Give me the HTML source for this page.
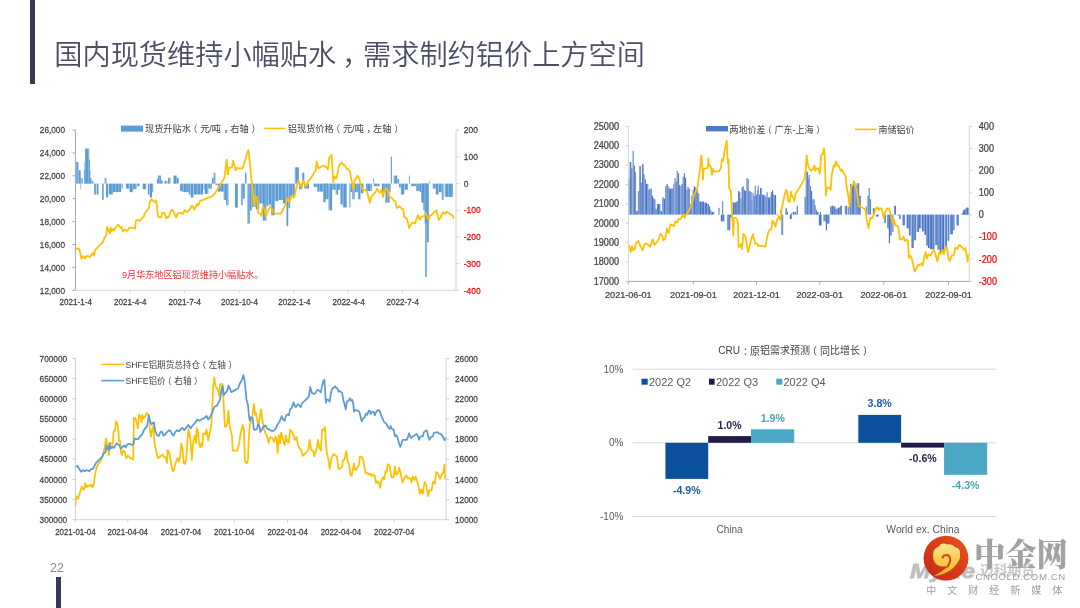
<!DOCTYPE html><html><head><meta charset="utf-8"><style>html,body{margin:0;padding:0;background:#fff;}svg{display:block;will-change:transform;} text{font-family:"Liberation Sans","Noto Sans CJK SC",sans-serif;}</style></head><body>
<svg width="1080" height="608" viewBox="0 0 1080 608">
<rect width="1080" height="608" fill="#fff"/>
<rect x="30" y="0" width="5" height="84" fill="#363a54"/>
<rect x="56" y="577" width="5" height="31" fill="#363a54"/>
<text y="54.5" font-size="28.2" fill="#4b4e69" dominant-baseline="central" font-weight="350"><tspan x="54.3">国内现货维持小幅贴水</tspan><tspan x="342">，</tspan><tspan x="363">需求制约铝价上方空间</tspan></text>
<text x="50.0" y="568.0" font-size="12.5" fill="#8c8c8c" text-anchor="start" dominant-baseline="central" >22</text>
<defs><pattern id="p1" x="0.3" width="3.4" height="20" patternUnits="userSpaceOnUse"><rect width="3.4" height="20" fill="#a5c6e8"/><rect width="2.8" height="20" fill="#5b9bd5"/></pattern></defs>
<g fill="url(#p1)"><rect x="76.19" y="161.93" width="2.37" height="21.67"/><rect x="78.56" y="170.22" width="2.13" height="13.38"/><rect x="80.45" y="183.60" width="0.71" height="5.59"/><rect x="80.69" y="178.16" width="2.01" height="5.44"/><rect x="83.89" y="170.22" width="1.19" height="13.38"/><rect x="84.48" y="161.93" width="0.95" height="21.67"/><rect x="85.07" y="148.53" width="4.15" height="35.07"/><rect x="88.04" y="159.56" width="1.78" height="24.04"/><rect x="89.22" y="170.22" width="1.19" height="13.38"/><rect x="89.81" y="178.16" width="1.78" height="5.44"/><rect x="91.59" y="180.89" width="1.78" height="2.71"/><rect x="93.96" y="183.60" width="2.37" height="10.92"/><rect x="96.93" y="183.60" width="1.78" height="10.92"/><rect x="102.02" y="183.60" width="1.66" height="16.25"/><rect x="104.63" y="177.93" width="1.78" height="5.67"/><rect x="106.05" y="183.60" width="2.13" height="13.88"/><rect x="108.78" y="183.60" width="4.15" height="10.92"/><rect x="112.93" y="183.60" width="8.30" height="8.55"/><rect x="121.81" y="183.60" width="1.19" height="4.99"/><rect x="125.96" y="183.60" width="3.56" height="4.99"/><rect x="129.52" y="183.60" width="3.56" height="8.55"/><rect x="133.07" y="183.60" width="3.56" height="5.59"/><rect x="137.22" y="183.60" width="2.37" height="2.62"/><rect x="142.56" y="183.60" width="3.56" height="5.59"/><rect x="147.89" y="183.60" width="1.78" height="10.92"/><rect x="149.67" y="183.60" width="2.37" height="13.88"/><rect x="152.04" y="183.60" width="1.19" height="8.55"/><rect x="156.78" y="179.11" width="1.19" height="4.49"/><rect x="157.96" y="175.56" width="2.96" height="8.04"/><rect x="160.93" y="180.30" width="1.78" height="3.30"/><rect x="164.48" y="180.89" width="2.96" height="2.71"/><rect x="168.04" y="177.93" width="2.37" height="5.67"/><rect x="173.37" y="175.56" width="3.56" height="8.04"/><rect x="176.93" y="177.93" width="1.78" height="5.67"/><rect x="179.89" y="183.60" width="2.37" height="7.36"/><rect x="182.26" y="183.60" width="6.52" height="8.55"/><rect x="188.78" y="183.60" width="1.78" height="10.92"/><rect x="190.56" y="183.60" width="2.96" height="13.88"/><rect x="193.52" y="183.60" width="3.56" height="10.92"/><rect x="197.07" y="183.60" width="5.93" height="10.92"/><rect x="203.56" y="183.60" width="1.19" height="6.18"/><rect x="204.74" y="183.60" width="3.56" height="10.33"/><rect x="208.30" y="183.60" width="3.56" height="4.99"/><rect x="211.85" y="177.93" width="1.78" height="5.67"/><rect x="213.63" y="172.59" width="1.78" height="11.01"/><rect x="215.41" y="183.60" width="2.37" height="1.44"/><rect x="217.78" y="183.60" width="5.93" height="7.99"/><rect x="223.70" y="183.60" width="2.37" height="16.29"/><rect x="226.07" y="183.60" width="2.37" height="21.62"/><rect x="234.96" y="183.60" width="2.96" height="23.99"/><rect x="240.89" y="183.60" width="1.78" height="21.62"/><rect x="242.67" y="183.60" width="2.37" height="15.10"/><rect x="245.04" y="172.59" width="1.42" height="11.01"/><rect x="247.41" y="183.60" width="2.37" height="39.99"/><rect x="249.78" y="183.60" width="2.37" height="26.96"/><rect x="252.15" y="183.60" width="3.56" height="23.40"/><rect x="255.70" y="183.60" width="3.56" height="25.77"/><rect x="259.26" y="183.60" width="3.56" height="19.84"/><rect x="262.81" y="183.60" width="3.56" height="37.03"/><rect x="266.37" y="183.60" width="2.37" height="22.21"/><rect x="268.74" y="183.60" width="2.37" height="21.03"/><rect x="271.11" y="183.60" width="3.56" height="31.70"/><rect x="274.67" y="183.60" width="3.56" height="17.47"/><rect x="278.22" y="183.60" width="4.74" height="16.29"/><rect x="282.96" y="183.60" width="3.56" height="19.84"/><rect x="286.52" y="183.60" width="1.78" height="42.36"/><rect x="288.30" y="183.60" width="1.78" height="24.59"/><rect x="290.07" y="183.60" width="4.74" height="12.73"/><rect x="294.81" y="167.26" width="4.15" height="16.34"/><rect x="298.96" y="183.60" width="2.96" height="5.59"/><rect x="301.93" y="172.59" width="2.37" height="11.01"/><rect x="304.30" y="183.60" width="4.74" height="4.99"/><rect x="313.78" y="183.60" width="3.56" height="3.25"/><rect x="317.33" y="183.60" width="5.93" height="7.99"/><rect x="323.26" y="183.60" width="2.37" height="18.66"/><rect x="325.63" y="183.60" width="2.37" height="15.10"/><rect x="325.00" y="183.60" width="3.56" height="15.66"/><rect x="332.11" y="183.60" width="3.56" height="6.18"/><rect x="335.67" y="183.60" width="2.37" height="10.92"/><rect x="338.04" y="183.60" width="2.37" height="6.18"/><rect x="350.48" y="183.60" width="1.78" height="8.55"/><rect x="352.26" y="183.60" width="2.37" height="15.66"/><rect x="354.63" y="183.60" width="3.56" height="8.55"/><rect x="358.19" y="183.60" width="2.37" height="15.66"/><rect x="360.56" y="183.60" width="2.96" height="9.73"/><rect x="365.89" y="183.60" width="5.93" height="7.36"/><rect x="373.00" y="177.93" width="0.83" height="5.67"/><rect x="373.83" y="183.60" width="5.69" height="2.62"/><rect x="381.89" y="183.60" width="3.56" height="8.55"/><rect x="389.59" y="183.60" width="1.19" height="8.55"/><rect x="390.78" y="156.59" width="1.19" height="27.01"/><rect x="393.74" y="175.56" width="3.56" height="8.04"/><rect x="397.30" y="179.11" width="1.78" height="4.49"/><rect x="399.07" y="183.60" width="1.78" height="3.81"/><rect x="400.85" y="183.60" width="3.56" height="10.92"/><rect x="404.41" y="183.60" width="3.56" height="6.18"/><rect x="408.91" y="175.56" width="0.83" height="8.04"/><rect x="410.93" y="183.60" width="5.33" height="2.62"/><rect x="416.26" y="183.60" width="3.56" height="7.36"/><rect x="419.81" y="183.60" width="2.37" height="8.55"/><rect x="422.19" y="183.60" width="2.37" height="19.21"/><rect x="429.30" y="180.89" width="0.59" height="2.71"/><rect x="432.85" y="183.60" width="2.96" height="4.99"/><rect x="435.81" y="183.60" width="2.96" height="10.92"/><rect x="438.78" y="183.60" width="2.96" height="8.55"/><rect x="441.74" y="183.60" width="1.78" height="16.25"/><rect x="444.70" y="183.60" width="8.30" height="13.29"/><rect x="328.56" y="183.60" width="3.56" height="26.81"/><rect x="340.41" y="183.60" width="2.37" height="20.88"/><rect x="342.78" y="183.60" width="4.15" height="23.84"/><rect x="349.30" y="183.60" width="1.19" height="23.84"/><rect x="385.44" y="183.60" width="4.15" height="19.10"/><rect x="421.00" y="183.60" width="2.37" height="18.51"/><rect x="423.37" y="183.60" width="2.37" height="26.81"/><rect x="424.56" y="183.60" width="4.50" height="39.84"/><rect x="426.93" y="183.60" width="2.13" height="58.81"/><rect x="425.15" y="183.60" width="1.54" height="93.41"/></g>
<polyline points="75.6,248.9 78.6,248.3 79.7,250.7 81.5,259.0 83.3,256.0 85.1,258.4 86.3,256.0 88.0,256.0 89.8,257.2 91.6,254.9 92.8,253.1 94.0,255.4 95.1,250.1 97.5,247.7 99.9,244.8 102.9,241.8 104.6,237.7 106.4,235.3 107.0,227.0 108.8,230.6 110.0,233.5 110.6,227.6 111.7,231.1 112.9,228.8 114.1,230.6 115.3,228.2 117.1,225.8 118.3,224.6 119.4,226.4 120.6,227.6 121.8,227.0 123.0,231.7 124.8,229.4 127.1,231.1 128.9,228.2 130.7,227.6 133.1,227.6 134.9,228.8 136.0,220.5 137.8,219.9 139.6,221.1 141.4,218.7 143.7,216.9 144.9,213.4 146.7,211.0 149.1,208.0 149.7,202.1 151.4,199.1 153.2,200.9 155.0,202.1 156.2,200.3 156.8,205.7 158.0,216.3 159.7,217.5 161.5,216.9 162.1,212.8 163.9,212.8 165.1,214.6 166.3,218.7 167.4,216.9 169.2,216.9 170.4,211.6 171.6,210.4 172.8,209.8 174.0,212.8 176.3,217.5 177.5,213.4 179.3,212.8 181.7,213.4 182.9,214.0 184.6,209.8 185.8,211.6 187.0,212.2 188.8,210.4 190.6,208.0 191.7,205.7 193.5,206.9 194.1,209.8 195.9,206.9 197.1,203.9 198.3,205.7 200.0,200.9 201.8,200.3 203.6,199.9 207.1,198.1 211.9,196.3 215.4,192.8 219.0,186.9 221.9,182.1 224.3,178.0 225.5,169.6 226.7,159.6 227.9,174.4 229.0,167.9 232.0,167.3 233.2,160.7 234.4,165.5 235.6,170.2 236.7,167.9 239.1,168.4 242.7,168.4 244.4,161.9 245.6,159.6 246.8,154.2 248.4,150.1 249.8,161.9 251.0,176.7 252.1,184.5 253.3,196.3 253.9,206.4 255.1,196.3 256.9,197.5 258.1,212.9 259.9,213.5 261.6,215.9 262.8,205.8 264.6,209.4 265.8,216.5 267.6,211.7 270.5,206.4 273.5,212.3 276.4,213.5 281.2,213.5 283.0,209.4 285.3,205.2 287.7,198.1 289.5,201.7 292.4,195.1 294.2,197.5 296.0,189.2 298.4,180.3 300.1,185.1 301.9,187.4 303.1,180.3 304.9,184.5 306.7,185.7 308.4,180.9 311.4,177.4 313.8,173.2 315.6,170.8 316.7,161.3 318.5,168.4 323.3,165.5 326.8,167.3 325.0,166.7 327.4,167.9 328.0,169.6 329.1,157.8 330.3,156.6 331.5,154.8 332.3,167.3 333.3,182.1 334.5,176.7 336.3,178.5 337.4,174.4 338.6,167.9 339.8,164.3 341.6,162.5 343.4,164.9 345.1,165.5 346.3,168.4 348.7,169.6 349.9,172.0 351.7,180.9 353.4,189.2 354.6,180.3 356.4,177.9 357.6,175.6 359.4,179.1 361.1,186.8 362.9,189.8 365.9,190.4 367.1,192.1 368.9,198.7 370.0,202.8 371.2,196.9 373.6,194.5 375.4,192.1 377.1,188.6 379.5,192.7 381.3,189.8 383.1,196.9 384.3,190.4 386.0,188.6 387.8,191.0 389.6,196.9 392.0,198.1 393.7,200.4 395.5,201.6 396.7,208.0 398.5,206.9 399.7,206.3 401.4,208.6 403.2,209.2 404.4,217.5 406.2,218.1 407.4,219.9 409.1,228.2 411.5,223.4 413.3,222.3 415.1,223.4 416.9,217.5 418.0,215.1 419.8,219.9 421.6,216.3 424.0,216.3 425.7,212.8 427.5,217.5 428.7,219.9 429.9,215.7 431.7,215.1 433.4,212.8 436.4,210.4 438.8,219.9 440.6,217.5 442.3,213.4 443.5,212.2 445.3,214.0 447.1,211.6 449.4,213.4 450.6,214.6 452.4,215.1 453.6,218.1" fill="none" stroke="#ffc000" stroke-width="1.75" stroke-linejoin="round" stroke-linecap="round"/>
<g stroke-width="1" fill="none">
<path stroke="#a6a6a6" d="M75.4 130.0 V290.3 M72.4 130.0 H75.4 M72.4 152.9 H75.4 M72.4 175.8 H75.4 M72.4 198.7 H75.4 M72.4 221.6 H75.4 M72.4 244.5 H75.4 M72.4 267.4 H75.4 M72.4 290.3 H75.4 "/>
<path stroke="#d0d0d0" d="M456.0 130.0 V290.3 M456.0 130.0 H459.0 M456.0 156.7 H459.0 M456.0 183.4 H459.0 M456.0 210.2 H459.0 M456.0 236.9 H459.0 M456.0 263.6 H459.0 M456.0 290.3 H459.0 "/>
<path stroke="#d4d4d4" d="M75.4 290.3 H456.0 M129.8 290.3 V293.3 M184.4 290.3 V293.3 M239.1 290.3 V293.3 M294.0 290.3 V293.3 M348.2 290.3 V293.3 M402.4 290.3 V293.3 "/>
</g>
<text transform="translate(65.00 130.00) scale(0.840 1)" font-size="9.8" fill="#404040" stroke="#404040" stroke-width="0.25" text-anchor="end" dominant-baseline="central" >26,000</text>
<text transform="translate(65.00 152.90) scale(0.840 1)" font-size="9.8" fill="#404040" stroke="#404040" stroke-width="0.25" text-anchor="end" dominant-baseline="central" >24,000</text>
<text transform="translate(65.00 175.80) scale(0.840 1)" font-size="9.8" fill="#404040" stroke="#404040" stroke-width="0.25" text-anchor="end" dominant-baseline="central" >22,000</text>
<text transform="translate(65.00 198.70) scale(0.840 1)" font-size="9.8" fill="#404040" stroke="#404040" stroke-width="0.25" text-anchor="end" dominant-baseline="central" >20,000</text>
<text transform="translate(65.00 221.60) scale(0.840 1)" font-size="9.8" fill="#404040" stroke="#404040" stroke-width="0.25" text-anchor="end" dominant-baseline="central" >18,000</text>
<text transform="translate(65.00 244.50) scale(0.840 1)" font-size="9.8" fill="#404040" stroke="#404040" stroke-width="0.25" text-anchor="end" dominant-baseline="central" >16,000</text>
<text transform="translate(65.00 267.40) scale(0.840 1)" font-size="9.8" fill="#404040" stroke="#404040" stroke-width="0.25" text-anchor="end" dominant-baseline="central" >14,000</text>
<text transform="translate(65.00 290.30) scale(0.840 1)" font-size="9.8" fill="#404040" stroke="#404040" stroke-width="0.25" text-anchor="end" dominant-baseline="central" >12,000</text>
<text transform="translate(463.80 130.00) scale(0.860 1)" font-size="9.8" fill="#404040" stroke="#404040" stroke-width="0.25" text-anchor="start" dominant-baseline="central" >200</text>
<text transform="translate(463.80 156.72) scale(0.860 1)" font-size="9.8" fill="#404040" stroke="#404040" stroke-width="0.25" text-anchor="start" dominant-baseline="central" >100</text>
<text transform="translate(463.80 183.43) scale(0.860 1)" font-size="9.8" fill="#404040" stroke="#404040" stroke-width="0.25" text-anchor="start" dominant-baseline="central" >0</text>
<text transform="translate(463.80 210.15) scale(0.860 1)" font-size="9.8" fill="#ff0000" stroke="#ff0000" stroke-width="0.25" text-anchor="start" dominant-baseline="central" >-100</text>
<text transform="translate(463.80 236.87) scale(0.860 1)" font-size="9.8" fill="#ff0000" stroke="#ff0000" stroke-width="0.25" text-anchor="start" dominant-baseline="central" >-200</text>
<text transform="translate(463.80 263.58) scale(0.860 1)" font-size="9.8" fill="#ff0000" stroke="#ff0000" stroke-width="0.25" text-anchor="start" dominant-baseline="central" >-300</text>
<text transform="translate(463.80 290.30) scale(0.860 1)" font-size="9.8" fill="#ff0000" stroke="#ff0000" stroke-width="0.25" text-anchor="start" dominant-baseline="central" >-400</text>
<text transform="translate(75.80 301.60) scale(0.890 1)" font-size="9.1" fill="#404040" stroke="#404040" stroke-width="0.25" text-anchor="middle" dominant-baseline="central" >2021-1-4</text>
<text transform="translate(130.20 301.60) scale(0.890 1)" font-size="9.1" fill="#404040" stroke="#404040" stroke-width="0.25" text-anchor="middle" dominant-baseline="central" >2021-4-4</text>
<text transform="translate(184.80 301.60) scale(0.890 1)" font-size="9.1" fill="#404040" stroke="#404040" stroke-width="0.25" text-anchor="middle" dominant-baseline="central" >2021-7-4</text>
<text transform="translate(239.50 301.60) scale(0.890 1)" font-size="9.1" fill="#404040" stroke="#404040" stroke-width="0.25" text-anchor="middle" dominant-baseline="central" >2021-10-4</text>
<text transform="translate(294.40 301.60) scale(0.890 1)" font-size="9.1" fill="#404040" stroke="#404040" stroke-width="0.25" text-anchor="middle" dominant-baseline="central" >2022-1-4</text>
<text transform="translate(348.60 301.60) scale(0.890 1)" font-size="9.1" fill="#404040" stroke="#404040" stroke-width="0.25" text-anchor="middle" dominant-baseline="central" >2022-4-4</text>
<text transform="translate(402.80 301.60) scale(0.890 1)" font-size="9.1" fill="#404040" stroke="#404040" stroke-width="0.25" text-anchor="middle" dominant-baseline="central" >2022-7-4</text>
<rect x="121" y="125.6" width="22" height="6" fill="#5b9bd5"/>
<text x="145.0" y="128.8" font-size="9.2" fill="#404040" text-anchor="start" dominant-baseline="central" >现货升贴水<tspan dx="-2.76">（</tspan><tspan dx="2.76">元</tspan>/吨<tspan dx="2.76">，</tspan><tspan dx="-2.76">右</tspan>轴<tspan dx="2.76">）</tspan></text>
<line x1="264" y1="128.4" x2="285.5" y2="128.4" stroke="#ffc000" stroke-width="1.6"/>
<text x="287.8" y="128.8" font-size="9.2" fill="#404040" text-anchor="start" dominant-baseline="central" >铝现货价格<tspan dx="-2.76">（</tspan><tspan dx="2.76">元</tspan>/吨<tspan dx="2.76">，</tspan><tspan dx="-2.76">左</tspan>轴<tspan dx="2.76">）</tspan></text>
<text x="122.0" y="274.5" font-size="9.1" fill="#ff3030" text-anchor="start" dominant-baseline="central" >9月华东地区铝现货维持小幅贴水。</text>
<defs><pattern id="p2" x="0.3" width="3" height="20" patternUnits="userSpaceOnUse"><rect width="3" height="20" fill="#aabfe6"/><rect width="2.35" height="20" fill="#4773c2"/></pattern></defs>
<g fill="url(#p2)"><rect x="628.37" y="179.11" width="1.19" height="35.49"/><rect x="629.56" y="161.93" width="1.78" height="52.67"/><rect x="631.33" y="168.44" width="1.19" height="46.16"/><rect x="632.52" y="150.67" width="1.19" height="63.93"/><rect x="633.70" y="165.48" width="1.19" height="49.12"/><rect x="634.89" y="172.00" width="1.19" height="42.60"/><rect x="636.07" y="211.11" width="1.78" height="3.49"/><rect x="637.85" y="190.96" width="1.42" height="23.64"/><rect x="639.27" y="166.07" width="1.54" height="48.53"/><rect x="640.81" y="182.67" width="1.19" height="31.93"/><rect x="642.00" y="164.30" width="1.54" height="50.30"/><rect x="643.54" y="174.37" width="1.19" height="40.23"/><rect x="644.73" y="179.11" width="1.19" height="35.49"/><rect x="645.91" y="183.85" width="1.19" height="30.75"/><rect x="647.10" y="183.85" width="1.19" height="30.75"/><rect x="648.28" y="189.78" width="1.19" height="24.82"/><rect x="649.47" y="188.59" width="1.42" height="26.01"/><rect x="650.89" y="188.59" width="0.95" height="26.01"/><rect x="651.84" y="195.70" width="1.19" height="18.90"/><rect x="653.02" y="198.07" width="1.19" height="16.53"/><rect x="654.21" y="199.26" width="1.19" height="15.34"/><rect x="655.39" y="208.74" width="1.66" height="5.86"/><rect x="657.05" y="204.00" width="3.32" height="10.60"/><rect x="660.37" y="211.11" width="1.78" height="3.49"/><rect x="662.15" y="197.48" width="1.54" height="17.12"/><rect x="663.69" y="198.67" width="1.42" height="15.93"/><rect x="665.11" y="186.22" width="1.42" height="28.38"/><rect x="666.53" y="183.85" width="1.19" height="30.75"/><rect x="667.72" y="186.22" width="1.19" height="28.38"/><rect x="668.90" y="188.59" width="3.32" height="26.01"/><rect x="672.22" y="188.59" width="1.19" height="26.01"/><rect x="673.41" y="183.85" width="0.95" height="30.75"/><rect x="674.36" y="177.93" width="1.19" height="36.67"/><rect x="675.54" y="181.48" width="1.19" height="33.12"/><rect x="676.73" y="170.81" width="1.19" height="43.79"/><rect x="677.91" y="173.19" width="1.19" height="41.41"/><rect x="679.10" y="185.04" width="1.19" height="29.56"/><rect x="680.28" y="186.22" width="1.19" height="28.38"/><rect x="681.47" y="183.85" width="1.19" height="30.75"/><rect x="682.65" y="176.74" width="1.19" height="37.86"/><rect x="683.84" y="173.19" width="1.19" height="41.41"/><rect x="685.02" y="177.93" width="1.19" height="36.67"/><rect x="686.21" y="189.78" width="1.19" height="24.82"/><rect x="687.39" y="186.81" width="1.19" height="27.79"/><rect x="688.58" y="188.59" width="1.42" height="26.01"/><rect x="690.00" y="204.00" width="1.42" height="10.60"/><rect x="691.42" y="195.70" width="1.19" height="18.90"/><rect x="692.61" y="189.78" width="1.19" height="24.82"/><rect x="693.79" y="186.22" width="1.19" height="28.38"/><rect x="694.98" y="187.41" width="1.19" height="27.19"/><rect x="696.16" y="189.78" width="1.54" height="24.82"/><rect x="697.70" y="193.33" width="1.54" height="21.27"/><rect x="699.24" y="201.63" width="4.98" height="12.97"/><rect x="704.22" y="202.81" width="2.96" height="11.79"/><rect x="707.19" y="204.00" width="1.78" height="10.60"/><rect x="708.96" y="206.37" width="1.19" height="8.23"/><rect x="710.15" y="209.93" width="1.19" height="4.67"/><rect x="736.22" y="201.63" width="1.78" height="12.97"/><rect x="738.00" y="190.96" width="1.19" height="23.64"/><rect x="739.19" y="192.15" width="1.19" height="22.45"/><rect x="740.37" y="198.07" width="1.19" height="16.53"/><rect x="741.56" y="187.41" width="1.19" height="27.19"/><rect x="742.74" y="186.22" width="1.19" height="28.38"/><rect x="743.93" y="189.78" width="1.19" height="24.82"/><rect x="745.11" y="190.96" width="1.19" height="23.64"/><rect x="746.30" y="177.93" width="1.19" height="36.67"/><rect x="747.48" y="179.11" width="1.19" height="35.49"/><rect x="748.67" y="190.96" width="1.78" height="23.64"/><rect x="750.44" y="192.15" width="1.19" height="22.45"/><rect x="751.63" y="200.44" width="0.37" height="14.16"/><rect x="711.33" y="211.85" width="2.96" height="2.75"/><rect x="718.44" y="207.70" width="1.19" height="6.90"/><rect x="720.81" y="214.60" width="3.56" height="6.73"/><rect x="722.00" y="201.19" width="1.19" height="13.41"/><rect x="727.33" y="214.60" width="2.96" height="15.62"/><rect x="730.30" y="214.60" width="1.78" height="3.18"/><rect x="732.67" y="202.37" width="3.56" height="12.23"/></g>
<g fill="url(#p2)"><rect x="752.00" y="200.44" width="0.37" height="14.16"/><rect x="752.37" y="192.74" width="1.19" height="21.86"/><rect x="753.56" y="195.70" width="1.19" height="18.90"/><rect x="754.74" y="185.63" width="1.19" height="28.97"/><rect x="755.93" y="194.52" width="1.19" height="20.08"/><rect x="757.11" y="189.78" width="0.59" height="24.82"/><rect x="757.70" y="185.63" width="1.19" height="28.97"/><rect x="758.89" y="194.52" width="1.19" height="20.08"/><rect x="760.07" y="188.00" width="1.78" height="26.60"/><rect x="761.85" y="194.52" width="1.19" height="20.08"/><rect x="763.04" y="195.11" width="2.37" height="19.49"/><rect x="765.41" y="196.89" width="1.19" height="17.71"/><rect x="766.59" y="192.15" width="1.19" height="22.45"/><rect x="767.78" y="197.48" width="2.37" height="17.12"/><rect x="770.15" y="195.70" width="0.59" height="18.90"/><rect x="770.74" y="192.15" width="1.19" height="22.45"/><rect x="771.93" y="190.37" width="1.19" height="24.23"/><rect x="773.11" y="194.52" width="1.19" height="20.08"/><rect x="774.30" y="195.11" width="1.78" height="19.49"/><rect x="780.22" y="209.93" width="1.19" height="4.67"/><rect x="785.56" y="208.15" width="1.19" height="6.45"/><rect x="796.81" y="205.78" width="1.19" height="8.82"/><rect x="804.52" y="196.89" width="1.19" height="17.71"/><rect x="805.70" y="170.81" width="1.19" height="43.79"/><rect x="806.89" y="172.00" width="1.19" height="42.60"/><rect x="808.07" y="179.11" width="0.59" height="35.49"/><rect x="808.67" y="174.96" width="1.19" height="39.64"/><rect x="809.85" y="186.22" width="1.19" height="28.38"/><rect x="811.04" y="190.96" width="1.19" height="23.64"/><rect x="812.22" y="199.26" width="1.19" height="15.34"/><rect x="813.41" y="199.26" width="1.19" height="15.34"/><rect x="814.59" y="205.19" width="1.19" height="9.41"/><rect x="815.78" y="209.93" width="1.19" height="4.67"/><rect x="830.00" y="206.37" width="1.78" height="8.23"/><rect x="831.78" y="205.78" width="1.19" height="8.82"/><rect x="832.96" y="206.37" width="2.37" height="8.23"/><rect x="835.33" y="208.74" width="2.37" height="5.86"/><rect x="837.70" y="207.56" width="2.37" height="7.04"/><rect x="840.07" y="205.78" width="1.78" height="8.82"/><rect x="844.81" y="205.78" width="2.37" height="8.82"/><rect x="847.78" y="206.96" width="1.78" height="7.64"/><rect x="850.15" y="183.85" width="1.19" height="30.75"/><rect x="851.33" y="185.04" width="1.78" height="29.56"/><rect x="853.11" y="180.89" width="1.19" height="33.71"/><rect x="854.30" y="183.85" width="1.19" height="30.75"/><rect x="855.48" y="185.63" width="1.19" height="28.97"/><rect x="856.67" y="183.26" width="1.30" height="31.34"/><rect x="776.67" y="214.60" width="1.78" height="0.81"/><rect x="781.41" y="214.60" width="1.78" height="20.36"/><rect x="789.70" y="214.60" width="2.37" height="4.36"/><rect x="818.74" y="214.60" width="2.96" height="10.88"/><rect x="823.48" y="214.60" width="2.37" height="6.73"/><rect x="825.85" y="214.60" width="1.19" height="15.62"/><rect x="827.04" y="214.60" width="2.37" height="9.10"/><rect x="785.56" y="208.30" width="1.19" height="6.30"/><rect x="786.74" y="211.85" width="1.19" height="2.75"/><rect x="790.89" y="213.04" width="1.19" height="1.56"/><rect x="792.67" y="211.85" width="1.78" height="2.75"/><rect x="794.44" y="211.85" width="1.78" height="2.75"/><rect x="796.81" y="205.93" width="1.19" height="8.67"/><rect x="816.37" y="211.85" width="2.37" height="2.75"/><rect x="819.93" y="211.85" width="1.19" height="2.75"/></g>
<g fill="url(#p2)"><rect x="858.00" y="183.26" width="1.19" height="31.34"/><rect x="859.19" y="195.70" width="1.78" height="18.90"/><rect x="865.70" y="206.37" width="1.19" height="8.23"/><rect x="867.48" y="195.70" width="1.19" height="18.90"/><rect x="868.67" y="188.00" width="1.19" height="26.60"/><rect x="869.85" y="199.26" width="1.19" height="15.34"/><rect x="872.81" y="208.15" width="1.78" height="6.45"/><rect x="894.15" y="205.78" width="1.78" height="8.82"/><rect x="962.89" y="209.93" width="1.78" height="4.67"/><rect x="964.67" y="208.74" width="1.78" height="5.86"/><rect x="966.44" y="207.56" width="2.37" height="7.04"/><rect x="875.78" y="214.60" width="2.96" height="1.99"/><rect x="882.89" y="214.60" width="1.19" height="1.99"/><rect x="884.07" y="214.60" width="1.78" height="8.51"/><rect x="887.04" y="214.60" width="1.78" height="13.84"/><rect x="888.81" y="214.60" width="1.19" height="28.66"/><rect x="890.00" y="214.60" width="1.78" height="20.96"/><rect x="892.37" y="214.60" width="1.19" height="17.40"/><rect x="897.11" y="214.60" width="1.78" height="0.81"/><rect x="898.89" y="214.60" width="1.78" height="4.36"/><rect x="902.44" y="214.60" width="2.37" height="10.88"/><rect x="906.59" y="214.60" width="2.37" height="13.84"/><rect x="908.96" y="214.60" width="1.78" height="20.96"/><rect x="911.33" y="214.60" width="2.37" height="33.40"/><rect x="913.70" y="214.60" width="2.37" height="25.70"/><rect x="916.67" y="214.60" width="2.37" height="17.40"/><rect x="919.04" y="214.60" width="2.37" height="13.84"/><rect x="922.00" y="214.60" width="2.37" height="16.81"/><rect x="924.37" y="214.60" width="1.78" height="20.36"/><rect x="926.15" y="214.60" width="1.78" height="31.03"/><rect x="927.93" y="214.60" width="1.78" height="33.40"/><rect x="929.70" y="214.60" width="2.37" height="34.59"/><rect x="932.07" y="214.60" width="2.37" height="34.59"/><rect x="935.04" y="214.60" width="2.37" height="30.44"/><rect x="937.41" y="214.60" width="2.37" height="35.18"/><rect x="939.78" y="214.60" width="1.78" height="38.14"/><rect x="941.56" y="214.60" width="2.96" height="37.55"/><rect x="945.11" y="214.60" width="1.78" height="32.21"/><rect x="947.48" y="214.60" width="1.78" height="26.29"/><rect x="949.85" y="214.60" width="2.96" height="19.77"/><rect x="952.81" y="214.60" width="1.78" height="15.62"/><rect x="956.37" y="214.60" width="2.37" height="10.88"/><rect x="961.70" y="213.04" width="1.78" height="1.56"/><rect x="963.48" y="211.26" width="2.37" height="3.34"/><rect x="966.44" y="208.30" width="2.37" height="6.30"/></g>
<polyline points="629.0,245.0 630.7,252.1 631.9,246.2 633.1,250.4 634.9,248.6 636.1,242.7 638.4,240.9 640.2,245.6 642.6,250.4 644.4,244.4 646.1,243.3 647.9,244.4 650.3,246.8 652.7,239.1 654.4,245.0 656.8,242.1 659.2,237.9 660.4,233.8 662.1,235.6 663.3,240.3 665.1,239.1 666.9,228.4 668.7,233.2 670.4,224.3 672.8,225.5 674.0,226.1 675.2,221.3 677.0,222.5 678.7,219.0 680.5,219.0 682.9,214.8 684.7,217.8 686.4,214.2 688.8,210.7 690.6,207.1 691.8,203.0 694.7,193.9 697.7,186.2 698.9,176.7 700.1,167.3 701.3,155.4 702.4,167.3 703.0,179.7 703.6,169.0 705.4,168.4 707.8,167.9 708.4,158.4 709.0,165.5 710.1,165.5 711.3,169.0 711.9,175.0 713.1,169.0 713.7,171.4 716.1,171.4 719.0,171.4 720.8,168.4 722.0,159.0 723.2,160.7 724.4,151.9 725.6,145.9 726.7,140.6 727.3,155.4 727.9,163.7 728.5,159.6 729.1,188.0 730.9,191.0 732.1,215.4 733.3,235.6 733.9,217.8 735.6,217.8 736.8,219.0 738.0,223.7 738.6,247.4 739.8,246.2 741.0,243.9 742.1,249.2 743.3,233.8 744.5,235.0 745.7,237.3 746.9,245.0 748.1,252.1 749.9,245.0 751.6,237.9 753.4,234.4 751.2,239.1 752.6,235.0 754.1,239.1 755.3,243.9 757.1,243.3 758.3,246.2 760.7,245.6 763.0,246.2 765.4,246.8 766.6,239.7 768.4,232.0 769.6,229.6 771.3,229.6 772.5,220.7 774.3,223.1 775.5,226.7 777.3,219.0 779.0,216.6 780.2,219.6 781.4,210.7 782.6,204.7 784.4,195.7 786.1,189.8 787.3,192.1 787.9,200.4 789.7,202.2 790.9,191.6 792.1,196.3 793.3,197.5 794.4,201.0 795.6,193.3 796.8,192.1 798.0,189.8 801.0,185.0 804.5,179.1 805.7,169.6 806.7,155.4 808.1,166.1 809.3,168.4 811.0,170.8 812.8,169.6 814.6,165.5 815.2,170.8 816.4,168.4 818.1,168.4 819.9,173.8 821.1,155.4 822.9,153.6 824.1,148.3 824.7,156.6 825.9,195.7 827.0,187.4 828.8,187.4 830.6,189.8 831.8,174.4 833.6,165.5 834.7,166.7 835.9,161.3 837.1,164.9 838.9,166.1 840.7,170.8 841.9,169.6 843.6,172.6 845.4,175.6 846.6,186.2 848.4,196.9 849.6,206.4 850.7,187.4 852.5,185.0 854.3,182.1 855.5,186.2 856.7,189.8 857.9,199.3 859.0,206.4 860.8,207.0 864.4,208.7 865.6,210.7 866.7,220.1 868.5,228.4 870.3,217.8 872.1,218.4 873.9,214.2 875.6,209.5 877.4,207.1 878.7,210.1 879.9,208.3 881.7,208.3 883.5,217.8 885.3,211.9 887.0,208.3 888.8,208.3 890.0,211.9 891.2,216.6 892.4,222.5 894.1,219.6 895.3,225.5 897.1,225.5 898.3,227.3 900.1,239.7 901.9,239.1 903.6,236.7 904.8,240.9 906.6,239.7 907.8,240.3 909.0,258.1 910.1,255.7 911.3,256.9 912.5,261.6 914.3,269.9 914.9,271.7 916.7,267.6 918.4,264.6 919.6,265.2 921.4,263.4 922.6,265.8 924.4,256.3 925.6,252.1 926.7,258.7 928.5,254.5 930.3,255.7 932.1,252.7 933.9,249.8 936.2,256.9 937.4,261.6 939.2,252.1 941.0,253.9 942.7,249.8 943.9,253.9 945.7,247.4 946.9,247.4 948.7,259.3 949.9,261.0 951.6,255.7 954.0,255.1 955.2,247.4 957.6,249.2 958.7,245.6 959.9,245.0 961.7,247.4 962.9,248.0 964.1,249.8 965.3,248.0 966.4,253.3 967.6,261.6 968.2,255.7 969.4,254.5" fill="none" stroke="#ffc000" stroke-width="1.75" stroke-linejoin="round" stroke-linecap="round"/>
<g stroke-width="1" fill="none">
<path stroke="#d4d4d4" d="M628.3 126.3 V281.4 M625.3 126.3 H628.3 M625.3 145.7 H628.3 M625.3 165.1 H628.3 M625.3 184.5 H628.3 M625.3 203.8 H628.3 M625.3 223.2 H628.3 M625.3 242.6 H628.3 M625.3 262.0 H628.3 M625.3 281.4 H628.3 "/>
<path stroke="#d4d4d4" d="M969.3 126.3 V281.4 M969.3 126.3 H972.3 M969.3 148.5 H972.3 M969.3 170.6 H972.3 M969.3 192.8 H972.3 M969.3 214.9 H972.3 M969.3 237.1 H972.3 M969.3 259.2 H972.3 M969.3 281.4 H972.3 "/>
<path stroke="#a6a6a6" d="M628.3 281.4 H969.3 M628.3 281.4 V284.4 M693.4 281.4 V284.4 M756.5 281.4 V284.4 M819.7 281.4 V284.4 M883.7 281.4 V284.4 M948.5 281.4 V284.4 "/>
</g>
<text transform="translate(619.00 125.90) scale(0.900 1)" font-size="10.1" fill="#404040" stroke="#404040" stroke-width="0.25" text-anchor="end" dominant-baseline="central" >25000</text>
<text transform="translate(619.00 145.29) scale(0.900 1)" font-size="10.1" fill="#404040" stroke="#404040" stroke-width="0.25" text-anchor="end" dominant-baseline="central" >24000</text>
<text transform="translate(619.00 164.67) scale(0.900 1)" font-size="10.1" fill="#404040" stroke="#404040" stroke-width="0.25" text-anchor="end" dominant-baseline="central" >23000</text>
<text transform="translate(619.00 184.06) scale(0.900 1)" font-size="10.1" fill="#404040" stroke="#404040" stroke-width="0.25" text-anchor="end" dominant-baseline="central" >22000</text>
<text transform="translate(619.00 203.45) scale(0.900 1)" font-size="10.1" fill="#404040" stroke="#404040" stroke-width="0.25" text-anchor="end" dominant-baseline="central" >21000</text>
<text transform="translate(619.00 222.84) scale(0.900 1)" font-size="10.1" fill="#404040" stroke="#404040" stroke-width="0.25" text-anchor="end" dominant-baseline="central" >20000</text>
<text transform="translate(619.00 242.22) scale(0.900 1)" font-size="10.1" fill="#404040" stroke="#404040" stroke-width="0.25" text-anchor="end" dominant-baseline="central" >19000</text>
<text transform="translate(619.00 261.61) scale(0.900 1)" font-size="10.1" fill="#404040" stroke="#404040" stroke-width="0.25" text-anchor="end" dominant-baseline="central" >18000</text>
<text transform="translate(619.00 281.00) scale(0.900 1)" font-size="10.1" fill="#404040" stroke="#404040" stroke-width="0.25" text-anchor="end" dominant-baseline="central" >17000</text>
<text transform="translate(978.80 125.90) scale(0.900 1)" font-size="10.1" fill="#404040" stroke="#404040" stroke-width="0.25" text-anchor="start" dominant-baseline="central" >400</text>
<text transform="translate(978.80 148.06) scale(0.900 1)" font-size="10.1" fill="#404040" stroke="#404040" stroke-width="0.25" text-anchor="start" dominant-baseline="central" >300</text>
<text transform="translate(978.80 170.21) scale(0.900 1)" font-size="10.1" fill="#404040" stroke="#404040" stroke-width="0.25" text-anchor="start" dominant-baseline="central" >200</text>
<text transform="translate(978.80 192.37) scale(0.900 1)" font-size="10.1" fill="#404040" stroke="#404040" stroke-width="0.25" text-anchor="start" dominant-baseline="central" >100</text>
<text transform="translate(978.80 214.53) scale(0.900 1)" font-size="10.1" fill="#404040" stroke="#404040" stroke-width="0.25" text-anchor="start" dominant-baseline="central" >0</text>
<text transform="translate(978.80 236.69) scale(0.900 1)" font-size="10.1" fill="#ff0000" stroke="#ff0000" stroke-width="0.25" text-anchor="start" dominant-baseline="central" >-100</text>
<text transform="translate(978.80 258.84) scale(0.900 1)" font-size="10.1" fill="#ff0000" stroke="#ff0000" stroke-width="0.25" text-anchor="start" dominant-baseline="central" >-200</text>
<text transform="translate(978.80 281.00) scale(0.900 1)" font-size="10.1" fill="#ff0000" stroke="#ff0000" stroke-width="0.25" text-anchor="start" dominant-baseline="central" >-300</text>
<text transform="translate(628.30 294.00) scale(0.930 1)" font-size="9.8" fill="#404040" stroke="#404040" stroke-width="0.25" text-anchor="middle" dominant-baseline="central" >2021-06-01</text>
<text transform="translate(693.40 294.00) scale(0.930 1)" font-size="9.8" fill="#404040" stroke="#404040" stroke-width="0.25" text-anchor="middle" dominant-baseline="central" >2021-09-01</text>
<text transform="translate(756.50 294.00) scale(0.930 1)" font-size="9.8" fill="#404040" stroke="#404040" stroke-width="0.25" text-anchor="middle" dominant-baseline="central" >2021-12-01</text>
<text transform="translate(819.70 294.00) scale(0.930 1)" font-size="9.8" fill="#404040" stroke="#404040" stroke-width="0.25" text-anchor="middle" dominant-baseline="central" >2022-03-01</text>
<text transform="translate(883.70 294.00) scale(0.930 1)" font-size="9.8" fill="#404040" stroke="#404040" stroke-width="0.25" text-anchor="middle" dominant-baseline="central" >2022-06-01</text>
<text transform="translate(948.50 294.00) scale(0.930 1)" font-size="9.8" fill="#404040" stroke="#404040" stroke-width="0.25" text-anchor="middle" dominant-baseline="central" >2022-09-01</text>
<rect x="706" y="126" width="22" height="5.4" fill="#4a7bc4"/>
<text x="729.5" y="129.6" font-size="9" fill="#404040" text-anchor="start" dominant-baseline="central" >两地价差<tspan dx="-2.70">（</tspan><tspan dx="2.70">广</tspan>东-上海<tspan dx="2.70">）</tspan></text>
<line x1="855" y1="129.4" x2="876.5" y2="129.4" stroke="#ffc000" stroke-width="1.6"/>
<text x="878.5" y="129.6" font-size="9" fill="#404040" text-anchor="start" dominant-baseline="central" >南储铝价</text>
<polyline points="75.4,505.1 76.4,496.2 78.1,498.6 79.9,492.7 81.7,486.7 82.9,489.1 84.1,489.7 85.3,483.2 86.4,487.3 87.6,485.6 89.4,486.1 91.2,484.4 92.4,487.3 93.6,484.4 94.7,477.3 96.5,467.2 98.3,464.2 100.7,460.7 102.4,457.1 104.8,446.8 106.0,438.5 107.2,445.0 108.4,452.1 109.0,455.1 109.6,442.7 111.3,443.3 112.5,445.0 113.7,430.8 114.9,430.8 116.1,421.3 117.3,423.7 118.4,431.4 119.0,441.5 120.2,440.9 120.8,452.1 122.0,455.1 123.2,450.4 125.0,452.1 126.1,458.1 127.9,455.7 129.7,457.5 131.5,458.7 133.3,459.3 133.9,417.8 135.6,418.4 136.8,423.1 138.0,428.4 138.9,414.8 140.4,416.6 141.6,422.5 142.1,414.8 143.3,418.4 145.1,416.6 146.9,413.0 148.1,414.2 149.3,420.1 149.9,429.6 151.0,436.7 152.2,429.6 153.4,426.1 154.6,443.9 155.8,448.6 157.0,455.7 158.1,458.1 160.5,456.3 162.3,454.5 164.1,456.9 165.9,457.5 167.0,462.8 167.6,450.4 168.8,451.6 170.0,456.3 171.8,467.6 173.0,471.1 174.1,469.9 175.3,464.0 176.5,460.4 177.7,458.1 178.9,461.6 180.1,456.9 181.3,443.3 182.4,447.4 183.6,462.8 184.8,464.0 186.0,460.4 187.2,445.0 188.4,429.0 189.6,434.4 190.7,442.7 191.9,459.9 193.1,442.7 194.9,435.6 196.1,443.3 196.7,428.4 197.9,430.8 199.0,443.3 200.2,447.4 201.4,443.3 201.2,444.6 202.4,446.3 203.3,433.3 205.3,434.5 206.5,429.7 208.3,440.4 210.1,430.9 211.3,425.0 212.4,405.3 213.0,388.7 214.2,377.4 215.4,385.7 216.6,388.1 217.8,389.9 219.0,395.8 220.1,384.0 221.3,384.0 222.5,384.0 223.7,404.1 224.9,426.6 226.1,426.6 227.3,423.1 228.4,410.6 229.4,423.7 230.8,431.4 232.0,435.7 232.6,450.5 234.4,450.5 237.3,450.5 239.1,444.0 240.3,435.7 241.5,429.7 242.7,425.0 243.9,429.7 245.0,461.7 246.8,463.5 248.0,459.4 248.6,440.4 249.8,425.0 251.0,420.7 252.1,420.7 252.7,412.4 253.9,404.1 255.1,414.8 255.7,412.4 256.9,418.3 258.1,425.4 259.3,420.7 261.0,409.4 262.2,418.3 263.4,425.4 264.0,429.7 265.8,433.9 267.6,438.0 268.7,442.8 270.5,436.9 272.3,438.0 274.1,442.2 275.3,436.3 276.4,438.0 277.6,452.9 278.8,435.1 280.0,443.4 281.2,432.7 283.0,439.2 284.7,445.1 285.9,435.7 287.1,441.6 288.9,442.8 290.1,429.7 291.9,431.5 293.6,435.7 294.8,439.8 296.6,436.9 297.8,445.1 299.6,448.7 301.3,449.9 302.5,455.8 304.9,454.0 308.4,449.9 309.6,439.8 311.4,449.9 313.2,451.1 314.4,456.4 315.6,451.7 316.7,448.1 317.9,439.8 319.1,446.9 320.9,450.5 322.1,429.7 323.9,429.7 325.0,426.8 325.9,442.8 326.8,452.3 328.6,460.6 329.7,468.9 331.5,458.2 333.3,454.0 335.1,455.2 336.9,456.4 338.6,468.9 340.4,468.3 342.2,466.5 342.8,460.6 344.6,459.4 345.7,453.4 346.3,451.1 347.5,460.6 349.3,466.5 350.5,474.8 351.7,476.0 352.9,468.9 354.0,463.5 355.2,470.0 357.0,468.9 358.8,465.3 360.0,456.4 361.7,457.0 363.5,460.6 365.3,472.4 366.5,473.6 367.7,473.0 368.9,474.8 370.6,473.6 371.8,476.0 373.0,474.8 374.8,476.0 376.0,483.1 377.7,481.3 379.5,484.3 380.1,487.8 381.3,480.7 383.1,477.1 384.3,479.5 385.4,471.2 386.6,472.4 387.8,464.1 389.6,465.9 391.4,477.1 393.7,477.1 394.9,466.5 396.1,474.8 397.9,473.6 399.1,467.7 400.9,474.8 402.6,482.5 404.4,478.3 406.2,475.4 408.0,478.3 410.3,478.3 411.5,482.5 412.7,476.6 414.5,480.1 415.7,476.6 417.4,481.9 418.6,486.6 419.8,493.7 421.0,489.6 422.8,493.7 424.6,481.9 426.3,485.4 428.1,496.1 429.3,490.2 431.7,490.2 432.9,481.9 434.6,483.7 436.4,471.8 438.2,474.2 440.0,478.9 441.7,474.8 443.5,471.8 444.5,464.7 445.3,478.9" fill="none" stroke="#ffc000" stroke-width="1.75" stroke-linejoin="round" stroke-linecap="round"/>
<polyline points="75.4,466.6 77.6,466.0 79.3,469.0 81.1,471.9 82.9,470.1 84.7,471.3 86.4,470.1 88.2,470.7 89.4,471.3 91.2,469.0 93.0,469.0 94.7,465.4 96.5,462.4 98.9,460.1 101.9,457.1 103.6,453.9 105.4,452.1 106.6,445.6 107.8,448.6 109.0,449.8 109.6,443.9 110.7,448.6 111.9,446.8 113.7,448.0 115.5,445.0 116.7,443.3 118.4,444.4 119.6,445.6 120.8,448.6 122.6,446.8 124.4,445.6 125.6,447.4 127.3,444.4 129.7,443.9 132.1,445.0 133.3,444.4 134.4,438.5 136.2,439.1 138.0,439.1 140.4,436.1 142.1,434.4 143.9,430.2 145.7,427.9 146.9,426.7 148.1,420.1 148.9,415.4 149.9,420.7 151.6,424.3 152.8,423.1 154.0,422.5 155.2,430.8 157.0,435.0 158.7,436.1 160.5,432.0 161.7,431.4 163.5,435.6 165.3,434.4 167.6,431.4 169.4,430.2 170.6,431.4 172.4,434.4 173.6,435.6 175.3,432.0 177.1,430.2 178.9,431.4 180.7,429.0 182.4,427.9 184.2,430.2 186.0,427.9 188.4,424.9 190.7,428.4 192.5,425.5 194.9,423.1 197.3,419.6 199.0,420.7 201.4,419.6 202.4,418.9 204.7,417.7 206.5,416.0 208.3,419.5 210.1,417.1 211.9,413.0 213.6,408.9 214.8,406.5 216.6,405.9 218.4,402.9 220.1,399.4 221.3,391.1 222.5,385.7 223.7,395.2 225.5,392.9 227.3,390.5 228.4,385.7 230.2,389.3 231.4,392.3 233.2,391.1 235.6,389.9 237.9,388.7 239.7,384.0 240.9,381.6 242.1,379.8 243.3,375.1 244.4,379.2 245.6,389.9 246.5,399.4 248.0,405.3 248.8,414.8 249.8,420.7 251.0,417.1 252.7,418.9 253.9,429.6 255.7,429.6 256.9,429.0 258.1,424.3 259.3,425.4 260.4,432.0 262.2,429.0 263.4,426.6 265.2,425.4 267.0,428.4 269.3,429.6 271.1,430.8 273.5,430.8 275.9,428.4 277.6,424.3 279.4,421.9 281.8,416.0 283.0,419.5 284.7,420.7 285.9,416.0 287.7,414.2 288.9,415.4 290.1,409.4 291.9,407.7 293.6,402.3 294.8,405.9 296.0,407.1 297.8,404.1 299.6,405.9 300.7,407.1 301.9,403.5 304.3,401.1 306.7,398.8 309.0,396.4 310.2,386.9 312.0,392.9 313.8,394.0 315.6,392.9 317.3,389.9 319.1,390.5 320.9,392.3 322.1,385.7 323.3,381.0 324.4,379.8 325.9,402.9 326.8,399.4 328.6,400.0 329.7,401.7 330.9,393.4 332.1,388.7 333.9,387.5 335.1,386.3 336.3,388.1 337.4,388.1 338.6,391.7 339.8,391.1 342.2,392.9 343.4,400.6 344.6,404.1 345.7,409.4 346.9,401.7 348.7,400.6 349.9,398.2 351.1,400.6 352.3,400.0 353.4,404.7 354.0,411.8 355.2,410.0 357.6,410.6 359.4,411.8 360.6,417.1 361.7,421.3 362.9,418.9 364.7,417.1 365.9,413.6 367.1,414.8 368.9,410.6 370.0,411.2 370.6,414.2 371.8,411.8 373.6,411.8 374.8,415.4 376.0,412.4 377.7,410.0 379.5,410.6 381.3,416.0 383.1,419.5 384.3,422.5 386.0,423.1 387.8,426.6 389.6,429.0 390.8,426.0 392.0,429.0 393.7,429.6 394.9,436.3 396.1,435.1 397.3,436.9 399.1,443.4 400.3,446.9 401.4,444.0 402.6,439.8 404.4,439.8 406.8,439.8 408.0,436.9 409.1,433.3 410.9,438.0 413.3,436.3 415.1,435.1 416.3,433.9 417.4,435.1 419.2,439.8 420.4,436.3 422.8,436.3 424.0,432.1 425.7,430.9 426.9,430.3 428.1,435.7 429.3,439.8 431.1,436.9 432.9,436.3 434.0,432.7 435.8,432.7 437.6,432.1 438.8,433.3 440.6,433.9 442.3,435.7 443.5,438.0 444.7,440.4 445.9,438.0" fill="none" stroke="#5b9bd5" stroke-width="1.75" stroke-linejoin="round" stroke-linecap="round"/>
<g stroke-width="1" fill="none">
<path stroke="#cccccc" d="M75.4 358.5 V519.7 M72.4 358.5 H75.4 M72.4 378.6 H75.4 M72.4 398.8 H75.4 M72.4 419.0 H75.4 M72.4 439.1 H75.4 M72.4 459.2 H75.4 M72.4 479.4 H75.4 M72.4 499.6 H75.4 M72.4 519.7 H75.4 "/>
<path stroke="#d0d0d0" d="M446.0 358.5 V519.7 M446.0 358.5 H449.0 M446.0 378.6 H449.0 M446.0 398.8 H449.0 M446.0 419.0 H449.0 M446.0 439.1 H449.0 M446.0 459.2 H449.0 M446.0 479.4 H449.0 M446.0 499.6 H449.0 M446.0 519.7 H449.0 "/>
<path stroke="#d4d4d4" d="M75.4 519.7 H446.0 M75.4 519.7 V522.7 M127.8 519.7 V522.7 M181.0 519.7 V522.7 M234.3 519.7 V522.7 M287.6 519.7 V522.7 M340.9 519.7 V522.7 M394.2 519.7 V522.7 "/>
</g>
<text transform="translate(67.10 358.50) scale(0.860 1)" font-size="9.6" fill="#404040" stroke="#404040" stroke-width="0.25" text-anchor="end" dominant-baseline="central" >700000</text>
<text transform="translate(67.10 378.65) scale(0.860 1)" font-size="9.6" fill="#404040" stroke="#404040" stroke-width="0.25" text-anchor="end" dominant-baseline="central" >650000</text>
<text transform="translate(67.10 398.80) scale(0.860 1)" font-size="9.6" fill="#404040" stroke="#404040" stroke-width="0.25" text-anchor="end" dominant-baseline="central" >600000</text>
<text transform="translate(67.10 418.95) scale(0.860 1)" font-size="9.6" fill="#404040" stroke="#404040" stroke-width="0.25" text-anchor="end" dominant-baseline="central" >550000</text>
<text transform="translate(67.10 439.10) scale(0.860 1)" font-size="9.6" fill="#404040" stroke="#404040" stroke-width="0.25" text-anchor="end" dominant-baseline="central" >500000</text>
<text transform="translate(67.10 459.25) scale(0.860 1)" font-size="9.6" fill="#404040" stroke="#404040" stroke-width="0.25" text-anchor="end" dominant-baseline="central" >450000</text>
<text transform="translate(67.10 479.40) scale(0.860 1)" font-size="9.6" fill="#404040" stroke="#404040" stroke-width="0.25" text-anchor="end" dominant-baseline="central" >400000</text>
<text transform="translate(67.10 499.55) scale(0.860 1)" font-size="9.6" fill="#404040" stroke="#404040" stroke-width="0.25" text-anchor="end" dominant-baseline="central" >350000</text>
<text transform="translate(67.10 519.70) scale(0.860 1)" font-size="9.6" fill="#404040" stroke="#404040" stroke-width="0.25" text-anchor="end" dominant-baseline="central" >300000</text>
<text transform="translate(455.00 358.50) scale(0.860 1)" font-size="9.6" fill="#404040" stroke="#404040" stroke-width="0.25" text-anchor="start" dominant-baseline="central" >26000</text>
<text transform="translate(455.00 378.65) scale(0.860 1)" font-size="9.6" fill="#404040" stroke="#404040" stroke-width="0.25" text-anchor="start" dominant-baseline="central" >24000</text>
<text transform="translate(455.00 398.80) scale(0.860 1)" font-size="9.6" fill="#404040" stroke="#404040" stroke-width="0.25" text-anchor="start" dominant-baseline="central" >22000</text>
<text transform="translate(455.00 418.95) scale(0.860 1)" font-size="9.6" fill="#404040" stroke="#404040" stroke-width="0.25" text-anchor="start" dominant-baseline="central" >20000</text>
<text transform="translate(455.00 439.10) scale(0.860 1)" font-size="9.6" fill="#404040" stroke="#404040" stroke-width="0.25" text-anchor="start" dominant-baseline="central" >18000</text>
<text transform="translate(455.00 459.25) scale(0.860 1)" font-size="9.6" fill="#404040" stroke="#404040" stroke-width="0.25" text-anchor="start" dominant-baseline="central" >16000</text>
<text transform="translate(455.00 479.40) scale(0.860 1)" font-size="9.6" fill="#404040" stroke="#404040" stroke-width="0.25" text-anchor="start" dominant-baseline="central" >14000</text>
<text transform="translate(455.00 499.55) scale(0.860 1)" font-size="9.6" fill="#404040" stroke="#404040" stroke-width="0.25" text-anchor="start" dominant-baseline="central" >12000</text>
<text transform="translate(455.00 519.70) scale(0.860 1)" font-size="9.6" fill="#404040" stroke="#404040" stroke-width="0.25" text-anchor="start" dominant-baseline="central" >10000</text>
<text transform="translate(75.40 531.60) scale(0.870 1)" font-size="9.1" fill="#404040" stroke="#404040" stroke-width="0.25" text-anchor="middle" dominant-baseline="central" >2021-01-04</text>
<text transform="translate(127.80 531.60) scale(0.870 1)" font-size="9.1" fill="#404040" stroke="#404040" stroke-width="0.25" text-anchor="middle" dominant-baseline="central" >2021-04-04</text>
<text transform="translate(181.00 531.60) scale(0.870 1)" font-size="9.1" fill="#404040" stroke="#404040" stroke-width="0.25" text-anchor="middle" dominant-baseline="central" >2021-07-04</text>
<text transform="translate(234.30 531.60) scale(0.870 1)" font-size="9.1" fill="#404040" stroke="#404040" stroke-width="0.25" text-anchor="middle" dominant-baseline="central" >2021-10-04</text>
<text transform="translate(287.60 531.60) scale(0.870 1)" font-size="9.1" fill="#404040" stroke="#404040" stroke-width="0.25" text-anchor="middle" dominant-baseline="central" >2022-01-04</text>
<text transform="translate(340.90 531.60) scale(0.870 1)" font-size="9.1" fill="#404040" stroke="#404040" stroke-width="0.25" text-anchor="middle" dominant-baseline="central" >2022-04-04</text>
<text transform="translate(394.20 531.60) scale(0.870 1)" font-size="9.1" fill="#404040" stroke="#404040" stroke-width="0.25" text-anchor="middle" dominant-baseline="central" >2022-07-04</text>
<line x1="101.3" y1="364.4" x2="124" y2="364.4" stroke="#ffc000" stroke-width="1.6"/>
<text x="125.5" y="364.6" font-size="8.6" fill="#404040" text-anchor="start" dominant-baseline="central" >SHFE铝期货总持仓<tspan dx="-2.58">（</tspan><tspan dx="2.58">左</tspan>轴<tspan dx="2.58">）</tspan></text>
<line x1="101.3" y1="380.6" x2="124" y2="380.6" stroke="#5b9bd5" stroke-width="1.6"/>
<text x="125.5" y="380.8" font-size="8.6" fill="#404040" text-anchor="start" dominant-baseline="central" >SHFE铝价<tspan dx="-2.58">（</tspan><tspan dx="2.58">右</tspan>轴<tspan dx="2.58">）</tspan></text>
<text x="795.7" y="350.6" font-size="10.0" fill="#404040" text-anchor="middle" dominant-baseline="central" >CRU<tspan dx="3.00">：</tspan><tspan dx="-3.00">原</tspan>铝需求预测<tspan dx="-3.00">（</tspan><tspan dx="3.00">同</tspan>比增长<tspan dx="3.00">）</tspan></text>
<g stroke="#d9d9d9" stroke-width="1">
<line x1="633" y1="369.2" x2="996.4" y2="369.2"/>
<line x1="633" y1="442.8" x2="996.4" y2="442.8"/>
<line x1="633" y1="516.5" x2="996.4" y2="516.5"/>
</g>
<text x="623.4" y="369.2" font-size="10" fill="#595959" text-anchor="end" dominant-baseline="central" >10%</text>
<text x="623.4" y="442.8" font-size="10" fill="#595959" text-anchor="end" dominant-baseline="central" >0%</text>
<text x="623.4" y="516.5" font-size="10" fill="#595959" text-anchor="end" dominant-baseline="central" >-10%</text>
<rect x="665.4" y="442.8" width="42.8" height="36.1" fill="#0a509c"/>
<rect x="708.2" y="436.1" width="42.8" height="6.7" fill="#231a4c"/>
<rect x="751" y="429.3" width="43.2" height="13.5" fill="#4aa8c4"/>
<rect x="858.3" y="414.9" width="42.8" height="27.9" fill="#0a509c"/>
<rect x="901.1" y="442.8" width="43" height="4.8" fill="#231a4c"/>
<rect x="944.1" y="442.8" width="43.1" height="32" fill="#4aa8c4"/>
<text x="686.8" y="490.3" font-size="10.6" fill="#1f5ba8" text-anchor="middle" dominant-baseline="central" font-weight="bold">-4.9%</text>
<text x="729.6" y="425.3" font-size="10.6" fill="#2a2553" text-anchor="middle" dominant-baseline="central" font-weight="bold">1.0%</text>
<text x="772.8" y="418.1" font-size="10.6" fill="#4aa3bd" text-anchor="middle" dominant-baseline="central" font-weight="bold">1.9%</text>
<text x="879.7" y="403.3" font-size="10.6" fill="#1f5ba8" text-anchor="middle" dominant-baseline="central" font-weight="bold">3.8%</text>
<text x="922.9" y="458.3" font-size="10.6" fill="#2a2553" text-anchor="middle" dominant-baseline="central" font-weight="bold">-0.6%</text>
<text x="965.7" y="485.0" font-size="10.6" fill="#4aa3bd" text-anchor="middle" dominant-baseline="central" font-weight="bold">-4.3%</text>
<rect x="641.5" y="378.7" width="6.2" height="6" fill="#0a509c"/>
<text x="649.0" y="381.8" font-size="11" fill="#595959" text-anchor="start" dominant-baseline="central" >2022 Q2</text>
<rect x="709" y="378.7" width="5.6" height="6" fill="#231a4c"/>
<text x="716.0" y="381.8" font-size="11" fill="#595959" text-anchor="start" dominant-baseline="central" >2022 Q3</text>
<rect x="776.3" y="378.7" width="6" height="6" fill="#4aa8c4"/>
<text x="783.5" y="381.8" font-size="11" fill="#595959" text-anchor="start" dominant-baseline="central" >2022 Q4</text>
<text x="729.6" y="529.0" font-size="10" fill="#595959" text-anchor="middle" dominant-baseline="central" >China</text>
<text x="922.9" y="529.0" font-size="10.3" fill="#595959" text-anchor="middle" dominant-baseline="central" >World ex. China</text>
<text x="910" y="570.5" font-size="20" font-weight="bold" font-style="italic" fill="#bfbfbf" stroke="#bfbfbf" stroke-width="0.8" dominant-baseline="central" textLength="65" lengthAdjust="spacingAndGlyphs">MyKe</text>
<text x="980" y="570" font-size="13.5" font-weight="bold" fill="#c8c8c8" dominant-baseline="central" textLength="55" lengthAdjust="spacingAndGlyphs">迈科期货</text>
<defs><linearGradient id="lg" x1="1" y1="0" x2="0" y2="1"><stop offset="0" stop-color="#ea5519"/><stop offset="1" stop-color="#c4241c"/></linearGradient><linearGradient id="ly" x1="0" y1="0" x2="0" y2="1"><stop offset="0" stop-color="#fde58c"/><stop offset="1" stop-color="#f4b21a"/></linearGradient></defs>
<circle cx="946" cy="558.2" r="22.4" fill="url(#lg)"/>
<path d="M934.2 576 C941 575.5 950 572 955 566 C958.5 562 960.5 559 960 555 C960.5 550 958.5 547.5 955.5 547.5 C953 544.5 949 543.5 947 544.5 C944.5 542.8 940 543.5 938.5 547 C935 547.5 933 551 933.2 555 C932.5 561 936 566 942 566.5 C945 566.8 947 566 948.5 565.5 C945 570 939 573 934.2 576 Z" fill="url(#ly)"/>
<path d="M942.5 557.5 C944 554 949 554 950 558 C950.8 561 949.5 564 947.3 566.8" fill="none" stroke="#d4401c" stroke-width="2" stroke-linecap="round"/>
<text x="974" y="552.5" font-size="31.3" fill="#a2a2a2" dominant-baseline="central" style="font-family:Noto Serif CJK SC,serif;font-weight:900">中金网</text>
<text x="975.4" y="576.6" font-size="9.6" fill="#9c9c9c" dominant-baseline="central" letter-spacing="0.6">CNGOLD.COM.CN</text>
<text x="926.3" y="590" font-size="10" fill="#9c9c9c" dominant-baseline="central" letter-spacing="11">中文财经新媒体</text>
</svg></body></html>
